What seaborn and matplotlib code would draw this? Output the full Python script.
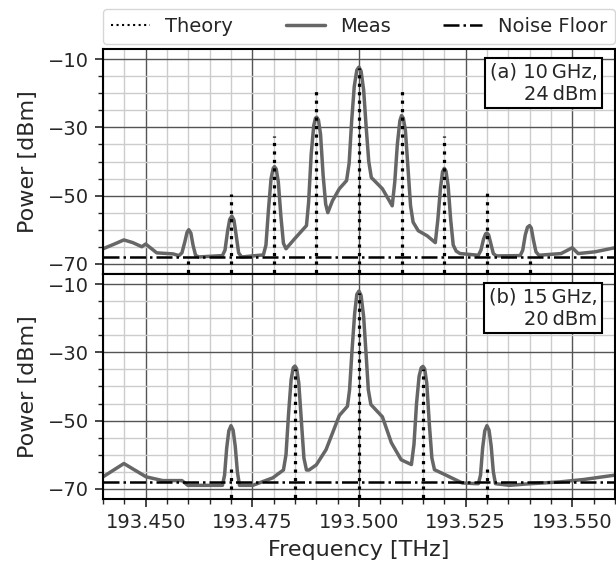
import numpy as np
import pandas as pd
import matplotlib
matplotlib.use("Agg")
import matplotlib.pyplot as plt
from matplotlib.ticker import MultipleLocator, FormatStrFormatter
from matplotlib.lines import Line2D
import seaborn as sns

sns.set_style("ticks")
plt.rcParams['font.family'] = ['DejaVu Sans']
plt.rcParams['font.size'] = 14

# (a) 10 GHz, 24 dBm - measured spectrum
meas_a_f = [193.4400, 193.4425, 193.4449, 193.4470, 193.4491, 193.4500, 193.4510, 193.4526,
            193.4564, 193.4578, 193.4585, 193.4592, 193.4597, 193.4601, 193.4606, 193.4611,
            193.4617, 193.4624,
            193.4680, 193.4686, 193.4692, 193.4697, 193.4702, 193.4707, 193.4712, 193.4718,
            193.4725,
            193.4776, 193.4782, 193.4788, 193.4794, 193.4799, 193.4802, 193.4806, 193.4811,
            193.4817, 193.4823, 193.4829,
            193.4849, 193.4877, 193.4882, 193.4888, 193.4894, 193.4898, 193.4901, 193.4905,
            193.4910, 193.4916, 193.4922, 193.4927,
            193.4938, 193.4954, 193.4971, 193.4977, 193.4983, 193.4989, 193.4995, 193.5000,
            193.5005, 193.5011, 193.5017, 193.5023, 193.5029,
            193.5055, 193.5067, 193.5078, 193.5084, 193.5090, 193.5096, 193.5100, 193.5104,
            193.5109, 193.5115, 193.5121, 193.5127,
            193.5139, 193.5160, 193.5179, 193.5185, 193.5191, 193.5196, 193.5200, 193.5204,
            193.5209, 193.5215, 193.5221, 193.5228,
            193.5237, 193.5280, 193.5286, 193.5292, 193.5297, 193.5300, 193.5304, 193.5309,
            193.5315, 193.5322,
            193.5378, 193.5384, 193.5390, 193.5395, 193.5400, 193.5404, 193.5409, 193.5415,
            193.5422,
            193.5474, 193.5500, 193.5514, 193.5553, 193.5600]
meas_a_p = [-65.6, -64.3, -63.0, -63.8, -65.0, -64.2, -65.2, -66.8,
            -67.1, -67.6, -66.8, -63.5, -60.8, -60.0, -61.0, -64.5,
            -67.5, -68.0,
            -67.6, -66.0, -60.5, -57.0, -56.0, -57.2, -61.5, -66.8,
            -68.0,
            -67.4, -64.5, -54.0, -45.0, -42.0, -41.5, -42.2, -46.0,
            -56.0, -64.0, -65.6,
            -62.7, -58.8, -52.0, -38.0, -29.5, -27.3, -27.0, -27.8,
            -32.0, -44.0, -52.5, -55.0,
            -51.5, -48.0, -45.6, -40.5, -28.0, -18.0, -13.2, -12.3,
            -13.5, -19.0, -30.0, -40.0, -44.7,
            -48.0, -50.6, -53.0, -46.0, -35.0, -28.0, -26.5, -27.3,
            -31.0, -42.0, -53.0, -57.8,
            -60.3, -61.8, -63.8, -57.0, -48.0, -43.0, -42.0, -42.8,
            -47.0, -57.0, -64.5, -66.3,
            -67.0, -67.5, -66.0, -62.8, -61.2, -61.0, -61.5, -64.0,
            -67.0, -67.7,
            -67.6, -66.0, -61.5, -59.3, -58.8, -59.5, -63.0, -66.5,
            -67.5,
            -67.0, -65.3, -67.0, -66.5, -65.3]

# (b) 15 GHz, 20 dBm - measured spectrum
meas_b_f = [193.4400, 193.4449, 193.4501, 193.4540, 193.4585, 193.4599, 193.4675,
            193.4680, 193.4685, 193.4690, 193.4695, 193.4700, 193.4705, 193.4710, 193.4715,
            193.4720,
            193.4751, 193.4798,
            193.4823, 193.4829, 193.4835, 193.4841, 193.4846, 193.4850, 193.4854, 193.4859,
            193.4865, 193.4871, 193.4877, 193.4883,
            193.4900, 193.4923, 193.4954,
            193.4973, 193.4978, 193.4984, 193.4990, 193.4995, 193.5000, 193.5005, 193.5011,
            193.5017, 193.5022, 193.5028,
            193.5055, 193.5076, 193.5099,
            193.5123, 193.5129, 193.5135, 193.5141, 193.5146, 193.5150, 193.5154, 193.5159,
            193.5165, 193.5171, 193.5177,
            193.5204, 193.5242, 193.5275,
            193.5280, 193.5285, 193.5290, 193.5295, 193.5300, 193.5305, 193.5310, 193.5315,
            193.5320,
            193.5353, 193.5392, 193.5470, 193.5526, 193.5600]
meas_b_p = [-66.5, -62.6, -66.5, -67.6, -67.6, -69.0, -69.0,
            -69.0, -66.0, -58.0, -53.0, -51.5, -52.8, -57.5, -65.0,
            -69.0,
            -69.0, -66.8,
            -64.5, -60.0, -48.0, -38.0, -34.5, -34.0, -34.8, -39.0,
            -50.0, -61.0, -64.5, -64.5,
            -63.0, -58.5, -48.5,
            -45.8, -41.0, -29.0, -18.5, -13.0, -12.0, -13.3, -19.5,
            -31.0, -41.0, -45.3,
            -48.9, -56.5, -61.5,
            -62.9, -57.0, -45.0, -37.0, -34.5, -34.1, -34.8, -39.0,
            -51.0, -61.0, -64.4,
            -66.0, -68.3, -68.5,
            -68.5, -66.0, -58.0, -53.0, -51.5, -52.8, -57.5, -65.0,
            -68.5,
            -69.0, -68.6, -68.0, -67.3, -66.0]

# theory comb lines
theory_a_f = [193.460, 193.470, 193.480, 193.490, 193.500, 193.510, 193.520, 193.530, 193.540]
theory_a_p = [-68.5, -49.4, -32.4, -19.1, -12.5, -19.1, -32.4, -49.0, -68.5]
theory_b_f = [193.470, 193.485, 193.500, 193.515, 193.530]
theory_b_p = [-63.5, -35.0, -12.5, -35.0, -63.5]

noise_floor = -68
labels = ["(a) 10\u2009GHz,\n24\u2009dBm", "(b) 15\u2009GHz,\n20\u2009dBm"]

fig = plt.figure(figsize=(6.16, 5.68), dpi=100)
ax_a = fig.add_axes([0.1672, 0.5176, 0.831, 0.3961])
ax_b = fig.add_axes([0.1672, 0.1215, 0.831, 0.3961])

panels = [(ax_a, meas_a_f, meas_a_p, theory_a_f, theory_a_p, labels[0]),
          (ax_b, meas_b_f, meas_b_p, theory_b_f, theory_b_p, labels[1])]

for ax, mf, mp, tf, tp, lab in panels:
    df = pd.DataFrame({"f": mf, "p": mp})
    ax.vlines(tf, -80, tp, colors="black", linestyles=":", lw=2.3, zorder=3)
    sns.lineplot(data=df, x="f", y="p", ax=ax, color="0.4", lw=2.5, zorder=2)
    ax.axhline(noise_floor, color="black", ls="-.", lw=1.8, zorder=4)
    ax.set_xlim(193.44, 193.56)
    ax.set_ylim(-73, -7)
    ax.xaxis.set_major_locator(MultipleLocator(0.025))
    ax.xaxis.set_minor_locator(MultipleLocator(0.005))
    ax.xaxis.set_major_formatter(FormatStrFormatter("%.3f"))
    ax.yaxis.set_major_locator(MultipleLocator(20, offset=10))
    ax.yaxis.set_minor_locator(MultipleLocator(5))
    ax.grid(which="major", color="0.33", lw=1)
    ax.grid(which="minor", color="0.8", lw=1)
    ax.set_axisbelow(True)
    ax.tick_params(which="major", length=6, width=1.2, pad=4, labelsize=14)
    ax.tick_params(which="minor", length=3.5, width=1)
    for s in ax.spines.values():
        s.set_linewidth(1.5)
        s.set_color("black")
    ax.set_ylabel("Power [dBm]", fontsize=16, labelpad=7)
    ax.text(0.966, 0.94, lab, transform=ax.transAxes, ha="right", va="top",
            multialignment="right", fontsize=14, zorder=6,
            bbox=dict(boxstyle="square,pad=0.25", fc="white", ec="black", lw=1.5))

ax_a.set_xlabel("")
ax_a.tick_params(axis="x", which="both", length=0, labelbottom=False)
ax_b.set_xlabel("Frequency [THz]", fontsize=16, labelpad=6)

handles = [Line2D([], [], color="black", ls=":", lw=1.5),
           Line2D([], [], color="0.4", lw=2.5),
           Line2D([], [], color="black", ls="-.", lw=1.8)]
fig.legend(handles, ["Theory", "Meas", "Noise Floor"], loc="lower left",
           bbox_to_anchor=(0.1672, 0.9225, 0.831, 0.06), mode="expand", ncol=3,
           borderaxespad=0, fontsize=14, frameon=True)

fig.savefig("out.png", dpi=100)
